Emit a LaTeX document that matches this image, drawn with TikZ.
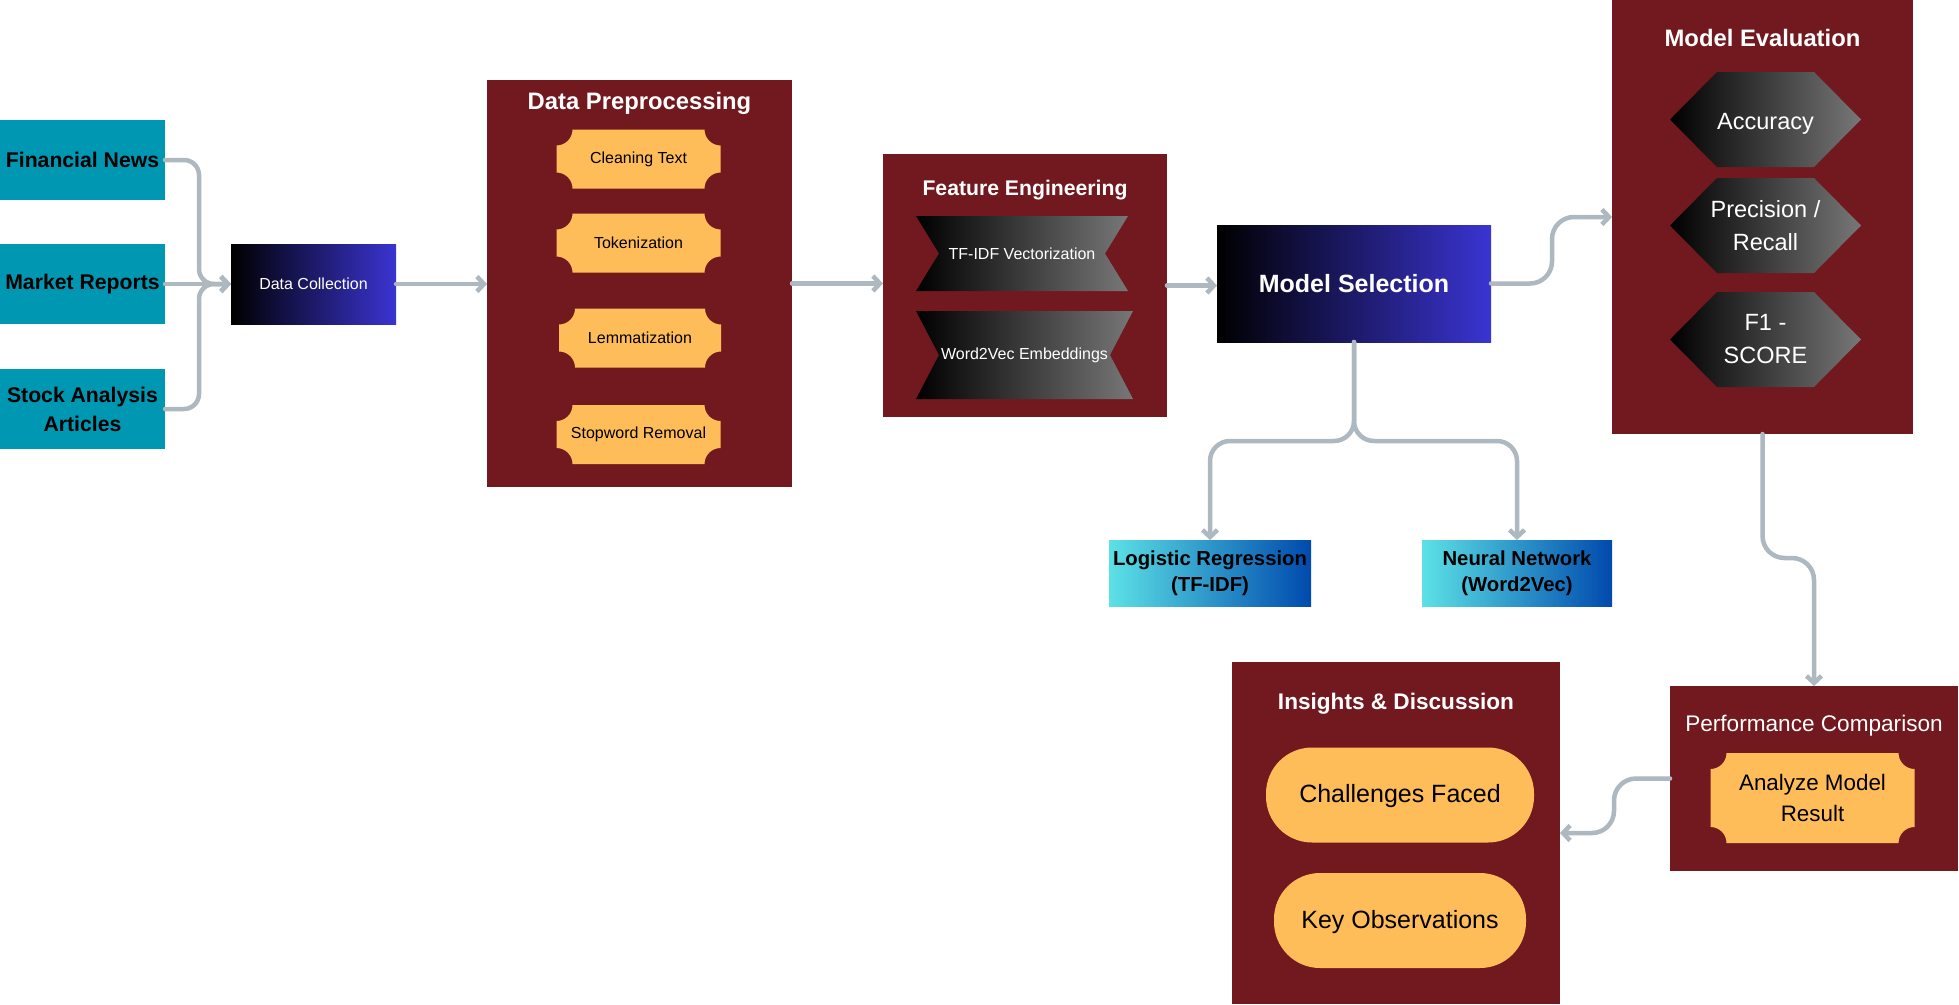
\documentclass[tikz,border=0pt]{standalone}
\usepackage{fontspec}
\setmainfont{Liberation Sans}
\usetikzlibrary{arrows.meta,calc}
\definecolor{tealbox}{HTML}{0097B2}
\definecolor{maroon}{HTML}{71191F}
\definecolor{ticket}{HTML}{FFBD59}
\definecolor{conncol}{HTML}{ADB8C0}
\definecolor{violetblue}{HTML}{3A34D2}
\definecolor{hexgray}{HTML}{777777}
\definecolor{cyanlight}{HTML}{5CE1E6}
\definecolor{deepblue}{HTML}{004AAD}
\newcommand{\myfs}[2]{\fontsize{#1}{#2}\selectfont}
\begin{document}
\begin{tikzpicture}[x=1pt,y=-1pt,
  every node/.style={inner sep=0pt, outer sep=0pt, align=center},
  srcbox/.style={fill=tealbox, minimum width=165pt, minimum height=80pt, font=\myfs{21.2}{29}\bfseries, text=black},
  gradbox/.style={left color=black, right color=violetblue, text=white},
  container/.style={fill=maroon},
  ctitle/.style={text=white, font=\myfs{23.8}{28}\bfseries},
  ticketbox/.style={fill=maroon, text=black, font=\myfs{16}{20},
    path picture={
      \coordinate (tkNW) at (path picture bounding box.north west);
      \coordinate (tkSE) at (path picture bounding box.south east);
      \fill[ticket] let \p1=(tkNW), \p2=(tkSE) in
        (\x1+16pt,\y1) -- (\x2-16pt,\y1)
        .. controls (\x2-16pt,\y1-8.8pt) and (\x2-8.8pt,\y1-16pt) .. (\x2,\y1-16pt)
        -- (\x2,\y2+16pt)
        .. controls (\x2-8.8pt,\y2+16pt) and (\x2-16pt,\y2+8.8pt) .. (\x2-16pt,\y2)
        -- (\x1+16pt,\y2)
        .. controls (\x1+16pt,\y2+8.8pt) and (\x1+8.8pt,\y2+16pt) .. (\x1,\y2+16pt)
        -- (\x1,\y1-16pt)
        .. controls (\x1+8.8pt,\y1-16pt) and (\x1+16pt,\y1-8.8pt) .. (\x1+16pt,\y1)
        -- cycle;}},
  hexbox/.style={fill=maroon, minimum width=191pt, minimum height=95pt, text=white, font=\myfs{23.5}{33},
    path picture={\shade[left color=black,right color=hexgray]
      (path picture bounding box.west) -- ([xshift=47pt]path picture bounding box.north west)
      -- ([xshift=-47pt]path picture bounding box.north east) -- (path picture bounding box.east)
      -- ([xshift=-47pt]path picture bounding box.south east) -- ([xshift=47pt]path picture bounding box.south west) -- cycle;}},
  ribbonbox/.style={fill=maroon, text=white, font=\myfs{16}{20},
    path picture={\shade[left color=black,right color=hexgray]
      (path picture bounding box.north west) -- ([xshift=23pt]path picture bounding box.west)
      -- (path picture bounding box.south west) -- (path picture bounding box.south east)
      -- ([xshift=-23pt]path picture bounding box.east) -- (path picture bounding box.north east) -- cycle;}},
  pill/.style={fill=ticket, rounded corners=46pt, font=\myfs{25}{30}, text=black, minimum height=95pt},
  mlbox/.style={left color=cyanlight, right color=deepblue, font=\myfs{20.3}{26}\bfseries, text=black, minimum height=66pt},
  conn/.style={draw=conncol, line width=4.5pt, line cap=round, line join=round, -{Straight Barb[length=7pt,width=15pt]}}
]
\fill[white] (0,0) rectangle (1959,1004);
\useasboundingbox (0,0) rectangle (1959,1004);

% containers
\node[container, minimum width=305pt, minimum height=407pt] (dp) at (639.5,283.5) {};
\node[container, minimum width=284pt, minimum height=263pt] (fe) at (1025,285.5) {};
\node[container, minimum width=301pt, minimum height=434pt] (me) at (1762.5,217) {};
\node[container, minimum width=328pt, minimum height=342pt] (id) at (1396,833) {};
\node[container, minimum width=288pt, minimum height=185pt] (pc) at (1814,778.5) {};

% titles
\node[ctitle] (dpt) at (639.5,103.5) {Data Preprocessing};
\node[ctitle, font=\myfs{21.2}{26}\bfseries] (fet) at (1025,190.5) {Feature Engineering};
\node[ctitle] (met) at (1762.5,37.5) {Model Evaluation};
\node[ctitle, font=\myfs{22.6}{27}\bfseries] (idt) at (1396,703.5) {Insights \& Discussion};
\node[ctitle, font=\myfs{22.6}{27}] (pct) at (1814,725.5) {Performance Comparison};

% sources
\node[srcbox] (fn) at (82.5,160) {Financial News};
\node[srcbox] (mr) at (82.5,284) {Market Reports};
\node[srcbox] (sa) at (82.5,409) {Stock Analysis\\Articles};

\node[gradbox, minimum width=165pt, minimum height=80pt, font=\myfs{16}{20}] (dc) at (313.5,284) {Data Collection};

% preprocessing steps
\node[ticketbox, minimum width=164pt, minimum height=59pt] (ct) at (638.5,159) {Cleaning Text};
\node[ticketbox, minimum width=164pt, minimum height=59pt] (tok) at (638.5,243) {Tokenization};
\node[ticketbox, minimum width=162pt, minimum height=59pt] (lem) at (640,338) {Lemmatization};
\node[ticketbox, minimum width=164pt, minimum height=59pt] (stop) at (638.5,434.5) {Stopword Removal};

% features
\node[ribbonbox, minimum width=212pt, minimum height=75pt] (tfidf) at (1022,253.5) {TF-IDF Vectorization};
\node[ribbonbox, minimum width=217pt, minimum height=88pt] (w2v) at (1024.5,355) {Word2Vec Embeddings};

% model selection
\node[gradbox, minimum width=274pt, minimum height=117pt, font=\myfs{25}{30}\bfseries] (ms) at (1354,283.5) {Model Selection};
\node[mlbox, minimum width=202pt] (lr) at (1210,573) {Logistic Regression\\(TF-IDF)};
\node[mlbox, minimum width=190pt] (nn) at (1517,573) {Neural Network\\(Word2Vec)};

% evaluation metrics
\node[hexbox] (acc) at (1765.5,119.5) {};
\node[text=white, font=\myfs{23.5}{33}] (acct) at (1765.5,123.5) {Accuracy};
\node[hexbox] (prec) at (1765.5,225.5) {Precision /\\Recall};
\node[hexbox] (f1) at (1765.5,339.5) {F1 -\\SCORE};

% performance comparison
\node[ticketbox, minimum width=204pt, minimum height=90pt, font=\myfs{22.4}{31}] (amr) at (1812.5,798) {Analyze Model\\Result};

% insights
\node[pill, minimum width=268pt] (cf) at (1400,795) {};
\node[font=\myfs{25}{30}] (cft) at (1400,796.5) {Challenges Faced};
\node[pill, minimum width=252pt] (ko) at (1400,920.5) {};
\node[font=\myfs{25}{30}] (kot) at (1400,922) {Key Observations};

% connectors
\draw[conn, rounded corners=15pt] (fn.east) -- ++(34,0) |- (dc.west);
\draw[conn] (mr.east) -- (dc.west);
\draw[conn, rounded corners=15pt] (sa.east) -- ++(34,0) |- (dc.west);
\draw[conn] (dc.east) -- (dc.east -| dp.west);
\draw[conn] (dp.east) -- (dp.east -| fe.west);
\draw[conn] (fe.east) -- (fe.east -| ms.west);
\draw[conn, rounded corners=22pt] (ms.east) -- ++(61,0) |- (me.west);
\draw[conn, rounded corners=20pt] (ms.south) -- ++(0,99) -| (lr.north);
\draw[conn, rounded corners=20pt] (ms.south) -- ++(0,99) -| (nn.north);
\draw[conn, rounded corners=22pt] (me.south) -- ++(0,124) -| (pc.north);
\draw[conn, rounded corners=22pt] (pc.west) -- ++(-56,0) |- (id.east);
\end{tikzpicture}
\end{document}
